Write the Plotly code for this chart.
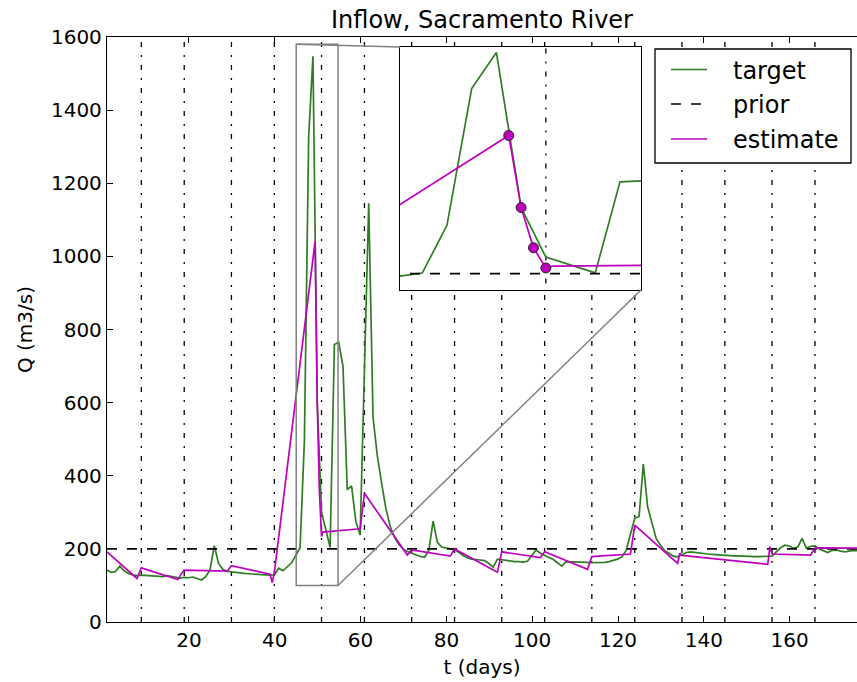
import numpy as np
import plotly.graph_objects as go

# ---------------- data ----------------
t_start = 0.9  # first daily sample (days)
target = [142, 136, 138, 153, 140, 133, 129, 127, 128, 127,
          128, 127, 125, 124, 127, 125, 122, 120, 122, 121,
          123, 118, 115, 124, 142, 209, 160, 144, 139, 137,
          135, 134, 133, 132, 131, 130, 130, 129, 128, 129,
          147, 140, 150, 162, 182, 203, 494, 1327, 1547, 602,
          300, 252, 204, 759, 765, 700, 362, 372, 275, 238,
          690, 1145, 560, 455, 380, 310, 262, 232, 212, 200,
          193, 188, 183, 179, 177, 195, 276, 218, 205, 202,
          200, 199, 190, 182, 176, 172, 171, 170, 168, 160,
          150, 172, 170, 167, 166, 165, 165, 164, 166, 180,
          197, 188, 182, 176, 171, 162, 153, 165, 165, 165,
          164, 165, 163, 162, 162, 162, 163, 165, 168, 172,
          178, 196, 240, 284, 288, 432, 315, 268, 228, 210,
          195, 188, 180, 178, 184, 190, 192, 190, 188, 188,
          186, 185, 184, 183, 183, 182, 181, 181, 180, 180,
          180, 179, 179, 179, 179, 180, 192, 203, 210, 208,
          202, 205, 229, 202, 207, 208, 200, 194, 190, 196,
          197, 194, 192, 194, 196, 195]

prior_value = 200

est_t = [0.9, 7.9, 8.9, 17.4, 18.4, 18.9, 28.9, 29.9, 38.9, 39.4, 39.9,
         49.4, 49.9, 50.4, 50.9, 51.2, 59.9, 60.9, 70.9, 71.9, 80.9, 81.9,
         91.9, 92.9, 101.9, 102.9, 112.9, 113.9, 122.9, 123.9, 133.9, 134.4,
         134.9, 154.9, 155.4, 155.9, 164.9, 165.9, 175.9]
est_v = [192, 119, 148, 116, 135, 142, 139, 154, 131, 108, 135,
         1041, 602, 357, 234, 246, 255, 352, 183, 197, 180, 200,
         136, 192, 176, 192, 144, 179, 186, 265, 160, 188,
         182, 158, 206, 186, 183, 203, 202]

# estimate points highlighted in the zoom inset
marked_t = [49.4, 49.9, 50.4, 50.9]

# observation times (vertical dash-dot lines)
obs_t = [8.9, 18.9, 29.9, 39.9, 50.9, 60.9, 71.9, 81.9, 92.9, 102.9,
         113.9, 123.9, 134.9, 144.9, 155.9, 165.9]

x_ticks = [20, 40, 60, 80, 100, 120, 140, 160]
y_ticks = [0, 200, 400, 600, 800, 1000, 1200, 1400, 1600]

legend_labels = ["target", "prior", "estimate"]

x_range = [0.9, 175.7]
y_range = [0, 1600]
zoom_x = [45.0, 54.75]
zoom_y = [100, 1580]

# ---------------- styles ----------------
GREEN = "#2f7d22"
MAG = "#bf00bf"
GRAY = "#808080"
FONT = "DejaVu Sans"
LW = 1.7
W, H = 857, 682
ML, MR, MT, MB = 107, 0, 37, 60
PW, PH = W - ML - MR, H - MT - MB

days = t_start + np.arange(len(target))
marked_v = [est_v[est_t.index(tt)] for tt in marked_t]

vx, vy = [], []
for tt in obs_t:
    vx += [tt, tt, None]
    vy += [y_range[0], y_range[1], None]

fig = go.Figure()

line_styles = {
    "target": dict(color=GREEN, width=LW),
    "prior": dict(color="black", width=LW, dash="10px,10px"),
    "estimate": dict(color=MAG, width=LW),
}


def add_all(xa, ya):
    fig.add_trace(go.Scatter(x=vx, y=vy, mode="lines", xaxis=xa, yaxis=ya,
                             line=dict(color="black", width=1.3, dash="5px,8px,2px,8px"),
                             showlegend=False, hoverinfo="skip"))
    fig.add_trace(go.Scatter(x=days, y=target, mode="lines", name="target",
                             xaxis=xa, yaxis=ya, showlegend=False,
                             line=line_styles["target"]))
    fig.add_trace(go.Scatter(x=[x_range[0], x_range[1] + 5], y=[prior_value, prior_value],
                             mode="lines", name="prior", xaxis=xa, yaxis=ya,
                             showlegend=False, line=line_styles["prior"]))
    fig.add_trace(go.Scatter(x=est_t, y=est_v, mode="lines", name="estimate",
                             xaxis=xa, yaxis=ya, showlegend=False,
                             line=line_styles["estimate"]))


add_all("x", "y")
add_all("x2", "y2")
fig.add_trace(go.Scatter(x=marked_t, y=marked_v, mode="markers", xaxis="x2", yaxis="y2",
                         showlegend=False,
                         marker=dict(color=MAG, size=10, line=dict(color="#222222", width=1))))

# inset domain (paper fractions of the main plot area)
ix_dom = [(400 - ML) / PW, (641 - ML) / PW]
iy_dom = [(MT + PH - 290) / PH, (MT + PH - 47) / PH]

# zoom rectangle on main axes
fig.add_shape(type="rect", xref="x", yref="y", x0=zoom_x[0], x1=zoom_x[1],
              y0=zoom_y[0], y1=zoom_y[1], line=dict(color=GRAY, width=1.5), layer="above")


def to_main_x(fx):
    return x_range[0] + fx * (x_range[1] - x_range[0])


def to_main_y(fy):
    return y_range[0] + fy * (y_range[1] - y_range[0])


# connectors: upper-left to upper-left, lower-right to lower-right
fig.add_shape(type="line", xref="x", yref="y", x0=zoom_x[0], y0=zoom_y[1],
              x1=to_main_x(ix_dom[0]), y1=to_main_y(iy_dom[1]),
              line=dict(color=GRAY, width=1.5), layer="above")
fig.add_shape(type="line", xref="x", yref="y", x0=zoom_x[1], y0=zoom_y[0],
              x1=to_main_x(ix_dom[1]), y1=to_main_y(iy_dom[0]),
              line=dict(color=GRAY, width=1.5), layer="above")


# ---------------- legend (drawn in paper coordinates) ----------------
def px_x(px):
    return (px - ML) / PW


def px_y(py):
    return (MT + PH - py) / PH


fig.add_shape(type="rect", xref="paper", yref="paper",
              x0=px_x(655), x1=px_x(851), y0=px_y(163), y1=px_y(49),
              fillcolor="white", line=dict(color="black", width=1.3), layer="above")
row_y = [69.5, 104, 139]
for lab, ry in zip(legend_labels, row_y):
    fig.add_shape(type="line", xref="paper", yref="paper",
                  x0=px_x(671), x1=px_x(707), y0=px_y(ry), y1=px_y(ry),
                  line=line_styles[lab], layer="above")
    fig.add_annotation(xref="paper", yref="paper", x=px_x(731), y=px_y(ry + 1),
                       xanchor="left", yanchor="middle", text=lab, showarrow=False,
                       font=dict(family=FONT, size=24, color="black"))

axis_font = dict(family=FONT, size=20, color="black")

fig.update_layout(
    width=W, height=H,
    margin=dict(l=ML, r=MR, t=MT, b=MB),
    paper_bgcolor="white", plot_bgcolor="white",
    font=dict(family=FONT, size=20, color="black"),
    title=dict(text="Inflow, Sacramento River", x=(ML + W) / 2 / W,
               xanchor="center", y=0.9713, yanchor="middle",
               font=dict(family=FONT, size=24, color="black")),
    xaxis=dict(domain=[0, 1], range=x_range, tickvals=x_ticks, ticks="inside", ticklen=6,
               tickwidth=1, tickcolor="black", showline=True, linecolor="black", linewidth=1.3,
               mirror="ticks", showgrid=False, zeroline=False, tickfont=axis_font,
               title=dict(text="t (days)", font=axis_font, standoff=8)),
    yaxis=dict(domain=[0, 1], range=y_range, tickvals=y_ticks, ticks="inside", ticklen=6,
               tickwidth=1, tickcolor="black", showline=True, linecolor="black", linewidth=1.3,
               mirror=False, showgrid=False, zeroline=False, tickfont=axis_font,
               title=dict(text="Q (m3/s)", font=axis_font, standoff=12)),
    xaxis2=dict(domain=ix_dom, range=zoom_x, anchor="y2", showticklabels=False, ticks="",
                showline=True, linecolor="black", linewidth=1.3, mirror=True,
                showgrid=False, zeroline=False),
    yaxis2=dict(domain=iy_dom, range=zoom_y, anchor="x2", showticklabels=False, ticks="",
                showline=True, linecolor="black", linewidth=1.3, mirror=True,
                showgrid=False, zeroline=False),
    showlegend=False,
)

fig.write_html("out.html")
